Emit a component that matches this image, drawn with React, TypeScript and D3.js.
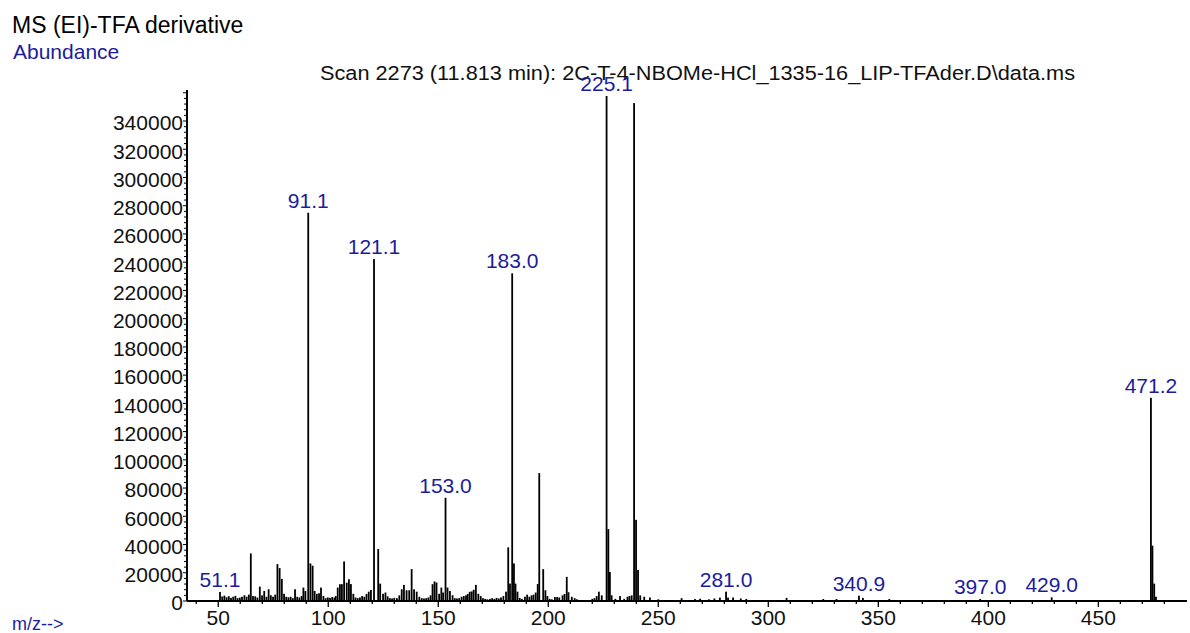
import * as d3 from "d3";
import { useEffect, useRef } from "react";

// m/z positions (as drawn) and abundances
const peakMz = [
  50.8, 51.8, 52.8, 53.8, 54.8, 55.8, 56.8, 57.8, 58.8, 59.8, 60.8, 61.9, 62.9, 63.9, 64.8, 65.8, 66.8, 67.8,
  68.9, 69.9, 70.9, 71.9, 72.9, 73.9, 74.9, 75.9, 76.9, 77.9, 78.9, 79.9, 80.9, 81.9, 82.9, 83.9, 84.9, 85.9,
  86.9, 87.9, 88.7, 89.6, 90.9, 91.9, 92.9, 93.8, 94.8, 95.8, 96.7, 97.8, 98.8, 99.8, 100.8, 101.8, 102.8,
  103.4, 104.3, 105.3, 106.2, 107.2, 108.4, 109.4, 110.3, 111.4, 112.4, 113.4, 114.4, 115.4, 116.4, 117.4,
  118.4, 119.4, 120.8, 122.7, 123.6, 124.9, 126.0, 127.0, 128.0, 129.0, 130.0, 131.2, 132.3, 133.4, 134.4,
  135.6, 136.8, 137.9, 139.0, 140.2, 141.4, 142.5, 143.5, 144.5, 145.5, 146.5, 147.4, 148.3, 149.2, 150.4,
  151.4, 152.2, 153.3, 154.2, 155.3, 156.5, 157.5, 158.5, 159.5, 160.6, 161.6, 162.6, 163.4, 164.3, 165.2,
  166.1, 167.1, 168.2, 169.3, 170.3, 171.3, 172.3, 173.5, 174.5, 175.5, 176.5, 177.5, 178.5, 179.6, 180.8,
  181.8, 182.6, 183.6, 184.4, 185.1, 186.0, 187.0, 188.0, 189.4, 190.4, 191.4, 192.4, 193.3, 194.3, 195.2,
  195.9, 197.7, 198.7, 199.6, 200.6, 201.6, 203.0, 204.0, 205.0, 206.5, 207.4, 208.4, 209.2, 210.7, 212.0,
  213.0, 220.0, 221.0, 222.0, 223.0, 224.3, 226.5, 227.3, 228.0, 228.8, 230.5, 232.6, 234.5, 236.0, 236.9,
  237.9, 239.0, 239.9, 240.8, 241.8, 243.6, 246.2, 250.0, 260.6, 266.7, 269.0, 273.0, 275.5, 278.0, 280.8,
  281.7, 284.0, 287.5, 290.0, 308.3, 325.0, 331.0, 341.2, 343.0, 355.0, 396.3, 428.8, 473.9, 474.6, 475.4,
  476.2,
];
const peakAbundance = [
  6400, 3200, 3800, 2600, 3400, 2200, 3000, 3600, 2000, 2400, 3000, 4100, 3000, 4500, 33700, 3500, 3300, 2400,
  10200, 4000, 7100, 3000, 8300, 4100, 3000, 4500, 26100, 23300, 15700, 5100, 3000, 2600, 3000, 2000, 8300, 3000,
  2500, 3500, 9500, 7100, 275000, 26600, 25000, 7100, 5100, 5500, 9500, 3600, 2000, 2500, 2200, 2800, 2400,
  3500, 9500, 11900, 11900, 28000, 13000, 15400, 12000, 5100, 2500, 2000, 2500, 3500, 3000, 5000,
  6600, 7800, 242200, 36800, 12300, 5100, 6000, 3300, 2000, 1800, 2200, 2000, 4000, 8300, 11400,
  7600, 7600, 22600, 8300, 6600, 3000, 2000, 1800, 2000, 2500, 4000, 11900, 13800, 13100, 5100,
  9500, 6000, 73100, 9500, 7100, 4100, 2000, 1800, 2000, 3000, 3500, 4000, 5000, 6500, 6800,
  8000, 11400, 5100, 3500, 2000, 1500, 1200, 1500, 2000, 1500, 2200, 1800, 2500, 3500, 6600,
  38000, 12300, 232100, 26600, 12300, 6600, 2200, 1500, 3000, 4500, 3000, 4000, 4500, 6000, 12000,
  90600, 22600, 7600, 3500, 1500, 1200, 2800, 2800, 2500, 4000, 5000, 17100, 6200, 3000, 2000,
  1200, 1500, 2000, 3500, 6600, 4000, 357700, 50900, 20600, 4000, 1500, 3500, 1500, 3000, 3500,
  4000, 352700, 57500, 22000, 4000, 3000, 2500, 1200, 2000, 1400, 1600, 1200, 1800, 2400, 6600,
  2400, 2500, 1800, 1500, 2200, 1400, 1400, 3800, 2200, 1400, 1400, 2600, 143900, 39200, 12300,
  3000,
];

// labelled peaks: the drawn position and the printed m/z
const labelMz = [50.8, 90.9, 120.8, 153.3, 183.6, 226.5, 280.8, 341.2, 396.3, 428.8, 473.9];
const labelText = ["51.1", "91.1", "121.1", "153.0", "183.0", "225.1", "281.0", "340.9", "397.0", "429.0", "471.2"];

const xTicks = [50, 100, 150, 200, 250, 300, 350, 400, 450];
const yTicks = d3.range(0, 340001, 20000);

const titleText = "MS (EI)-TFA derivative";
const scanText = "Scan 2273 (11.813 min): 2C-T-4-NBOMe-HCl_1335-16_LIP-TFAder.D\\data.ms";

const App = () => {
  const svgRef = useRef<SVGSVGElement>(null);
  useEffect(() => {
    if (!svgRef.current) return;
    const svg = d3.select(svgRef.current);
    svg.selectAll("*").remove();
    const font = "'Liberation Sans', Arial, sans-serif";
    const blue = "#1c1c9c";

    const x = d3.scaleLinear().domain([35.8, 490.3]).range([187, 1187]);
    const y = d3.scaleLinear().domain([0, 340000]).range([601, 121]);
    const yTop = 90;

    // titles
    svg.append("text").attr("x", 12).attr("y", 33).attr("font-size", 23).attr("fill", "#000").text(titleText);
    svg.append("text").attr("x", 13).attr("y", 59).attr("font-size", 21).attr("fill", blue).text("Abundance");
    svg
      .append("text")
      .attr("x", 320)
      .attr("y", 80)
      .attr("font-size", 20)
      .attr("fill", "#111")
      .attr("textLength", 755)
      .attr("lengthAdjust", "spacingAndGlyphs")
      .text(scanText);
    svg.append("text").attr("x", 12).attr("y", 630).attr("font-size", 18).attr("fill", blue).text("m/z-->");

    // peaks
    const peaks = peakMz.map((mz, i) => ({ mz, v: peakAbundance[i] }));
    svg
      .append("g")
      .selectAll()
      .data(peaks)
      .join("rect")
      .attr("x", (d) => x(d.mz) - 0.9)
      .attr("width", 1.8)
      .attr("y", (d) => y(d.v))
      .attr("height", (d) => y(0) - y(d.v))
      .attr("fill", "#000");

    // y axis
    const ya = svg.append("g").attr("stroke", "#000");
    ya.append("line").attr("x1", 187).attr("x2", 187).attr("y1", yTop).attr("y2", y(0)).attr("stroke-width", 2);
    ya.selectAll()
      .data(d3.range(0, 360001, 4000))
      .join("line")
      .attr("x1", (d) => (d % 20000 === 0 ? 183 : 184))
      .attr("x2", 187)
      .attr("y1", (d) => y(d))
      .attr("y2", (d) => y(d))
      .attr("stroke-width", 1);
    svg
      .append("g")
      .attr("font-size", 21)
      .attr("text-anchor", "end")
      .attr("fill", "#111")
      .selectAll()
      .data(yTicks)
      .join("text")
      .attr("x", 183)
      .attr("y", (d) => y(d) + 2)
      .attr("dy", "0.35em")
      .text((d) => d);

    // x axis
    const xa = svg.append("g").attr("stroke", "#000");
    xa.append("line").attr("x1", 187).attr("x2", 1187).attr("y1", y(0)).attr("y2", y(0)).attr("stroke-width", 1.8);
    xa.selectAll()
      .data(d3.range(40, 490, 10))
      .join("line")
      .attr("x1", (d) => x(d))
      .attr("x2", (d) => x(d))
      .attr("y1", y(0))
      .attr("y2", (d) => (d % 50 === 0 ? y(0) + 6 : y(0) + 3))
      .attr("stroke-width", 1.3);
    svg
      .append("g")
      .attr("font-size", 21)
      .attr("text-anchor", "middle")
      .attr("fill", "#111")
      .selectAll()
      .data(xTicks)
      .join("text")
      .attr("x", (d) => x(d))
      .attr("y", 625)
      .text((d) => d);

    // peak labels
    svg
      .append("g")
      .attr("font-size", 21)
      .attr("text-anchor", "middle")
      .attr("fill", blue)
      .selectAll()
      .data(labelMz)
      .join("text")
      .attr("x", (d) => x(d))
      .attr("y", (d) => y(peaks.find((p) => p.mz === d)!.v) - 5)
      .text((d, i) => labelText[i]);

    svg.selectAll("text").attr("font-family", font);
  }, []);
  return (
    <svg
      ref={svgRef}
      width={1190}
      height={633}
      style={{ position: "absolute", left: 0, top: 0, background: "#fff" }}
    ></svg>
  );
};

export default App;
